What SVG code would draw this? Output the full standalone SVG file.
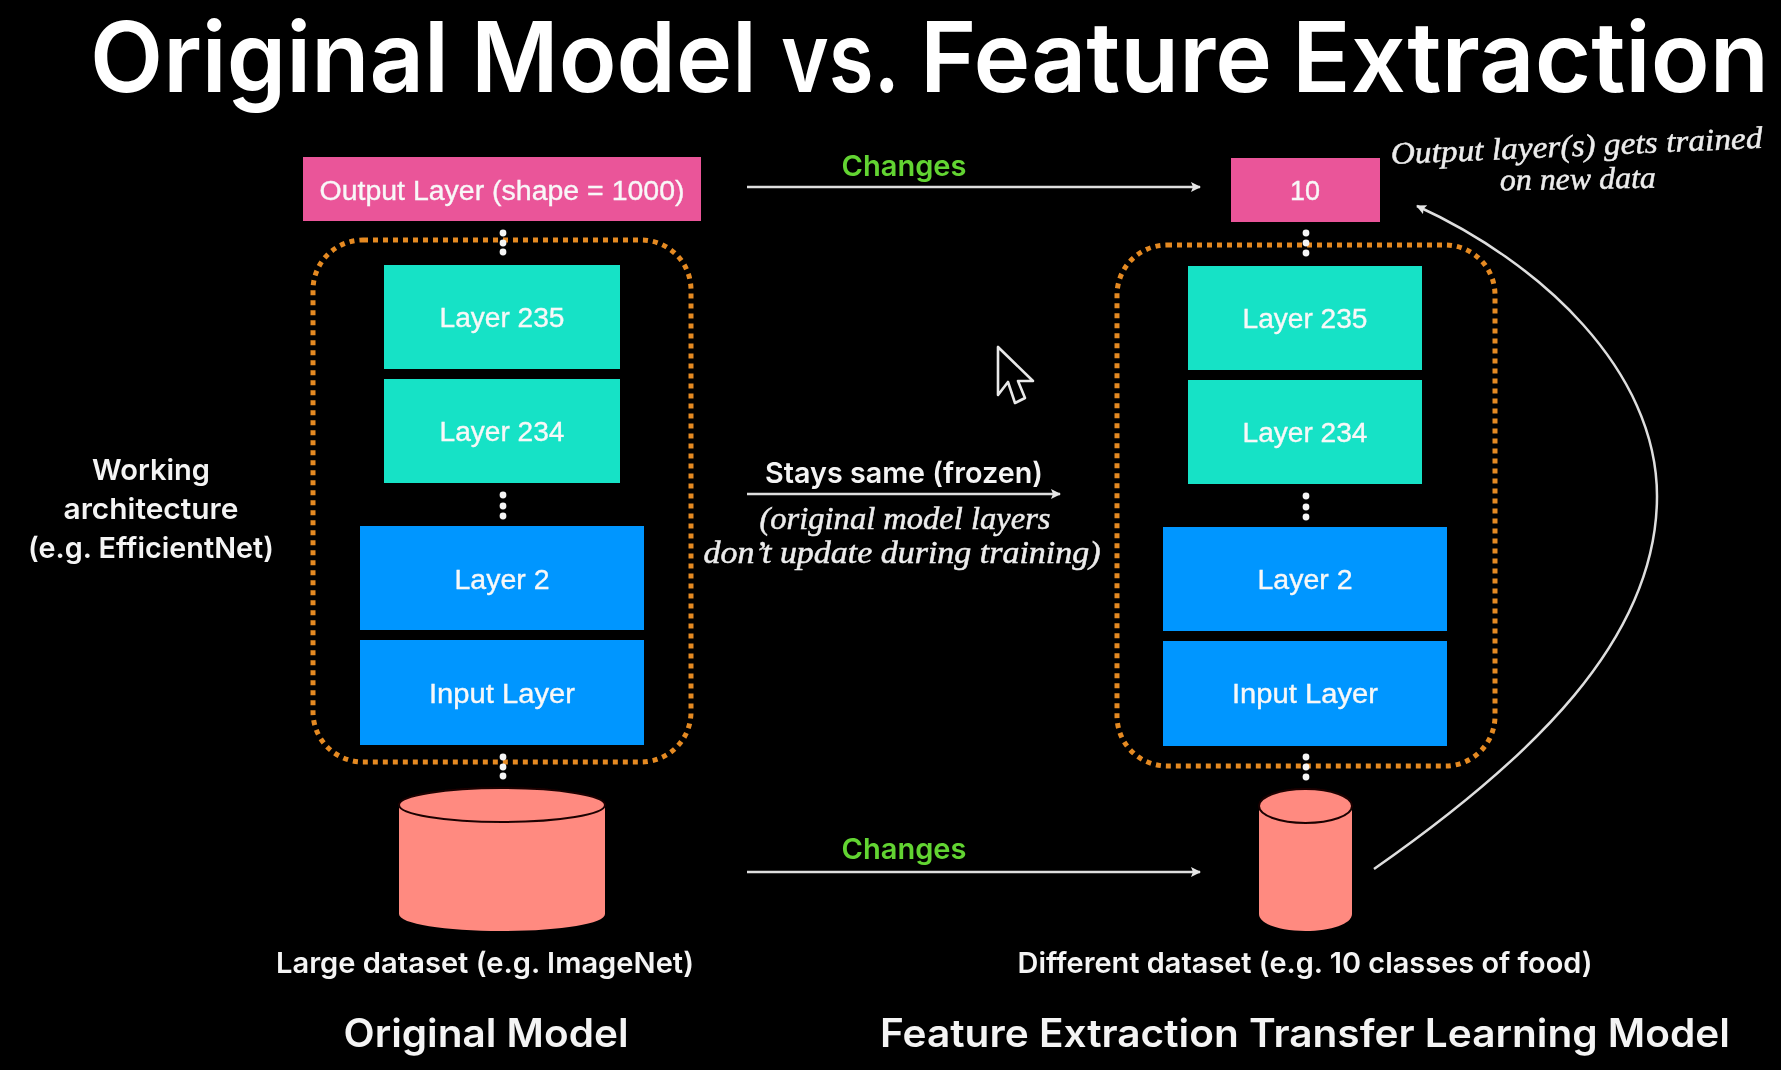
<svg xmlns="http://www.w3.org/2000/svg" width="1781" height="1070" viewBox="0 0 1781 1070">
<style>
.sans{font-family:"Inter","Noto Sans",sans-serif;font-weight:600;fill:#f4f4f4;text-anchor:middle}
.head{text-anchor:start;fill:#fff}
.lab{font-family:"Liberation Sans",Arial,sans-serif;font-size:27px;fill:#f8f8f8;text-anchor:middle;stroke:#f8f8f8;stroke-width:.35}
.hand{font-family:"Liberation Serif","Times New Roman",serif;font-style:italic;font-size:31px;fill:#ececec;text-anchor:middle;stroke:#ececec;stroke-width:.5}
.green{fill:#62d431}
.pink{fill:#ea5499}
.teal{fill:#17e2c6}
.blue{fill:#0096ff}
.frame{fill:none;stroke:#e58a22;stroke-width:5;stroke-dasharray:5 5}
.dot{fill:#f5f5f5}
.cyl{fill:#ff8a80}
.rim{fill:#ff8a80;stroke:#1c0503;stroke-width:2}
.conn{fill:none;stroke:#dedede;stroke-width:2.500}
</style>
<defs>
<marker id="arrow" markerUnits="userSpaceOnUse" markerWidth="12" markerHeight="12" refX="9" refY="5" orient="auto"><path d="M0 0L10 5L0 10L2 5Z" fill="#e6e6e6"/></marker>
<filter id="soft" x="0" y="0" width="100%" height="100%"><feGaussianBlur stdDeviation="0.5"/></filter>
</defs>
<rect width="1781" height="1070" fill="#000"/>
<g filter="url(#soft)">
<g id="title"><text class="sans head" y="92" font-size="98"><tspan x="90" textLength="359" lengthAdjust="spacingAndGlyphs">Original</tspan> <tspan x="471" textLength="286" lengthAdjust="spacingAndGlyphs">Model</tspan> <tspan x="781" textLength="117" lengthAdjust="spacingAndGlyphs">vs.</tspan> <tspan x="920" textLength="352" lengthAdjust="spacingAndGlyphs">Feature</tspan> <tspan x="1292" textLength="477" lengthAdjust="spacingAndGlyphs">Extraction</tspan></text></g>

<g id="frame-left"><rect class="frame" x="313" y="240" width="378" height="522" rx="50"/></g>
<g id="frame-right"><rect class="frame" x="1117" y="245" width="378" height="521" rx="50"/></g>

<g id="dots-left"><circle class="dot" cx="503" cy="233" r="3.4"/><circle class="dot" cx="503" cy="243" r="3.4"/><circle class="dot" cx="503" cy="252" r="3.4"/><circle class="dot" cx="503" cy="495" r="3.4"/><circle class="dot" cx="503" cy="506" r="3.4"/><circle class="dot" cx="503" cy="516" r="3.4"/><circle class="dot" cx="503" cy="757" r="3.4"/><circle class="dot" cx="503" cy="767" r="3.4"/><circle class="dot" cx="503" cy="776" r="3.4"/></g>
<g id="dots-right"><circle class="dot" cx="1306" cy="233" r="3.4"/><circle class="dot" cx="1306" cy="243" r="3.4"/><circle class="dot" cx="1306" cy="253" r="3.4"/><circle class="dot" cx="1306" cy="496" r="3.4"/><circle class="dot" cx="1306" cy="507" r="3.4"/><circle class="dot" cx="1306" cy="517" r="3.4"/><circle class="dot" cx="1306" cy="757" r="3.4"/><circle class="dot" cx="1306" cy="767" r="3.4"/><circle class="dot" cx="1306" cy="777" r="3.4"/></g>

<g id="output-left"><rect class="pink" x="303" y="157" width="398" height="64"/><text class="lab" x="502" y="200" textLength="365" lengthAdjust="spacingAndGlyphs">Output Layer (shape = 1000)</text></g>
<g id="l235-left"><rect class="teal" x="384" y="265" width="236" height="104"/><text class="lab" x="502" y="327" textLength="125" lengthAdjust="spacingAndGlyphs">Layer 235</text></g>
<g id="l234-left"><rect class="teal" x="384" y="379" width="236" height="104"/><text class="lab" x="502" y="441" textLength="125" lengthAdjust="spacingAndGlyphs">Layer 234</text></g>
<g id="l2-left"><rect class="blue" x="360" y="526" width="284" height="104"/><text class="lab" x="502" y="589" textLength="95" lengthAdjust="spacingAndGlyphs">Layer 2</text></g>
<g id="input-left"><rect class="blue" x="360" y="640" width="284" height="105"/><text class="lab" x="502" y="703" textLength="146" lengthAdjust="spacingAndGlyphs">Input Layer</text></g>

<g id="output-right"><rect class="pink" x="1231" y="158" width="149" height="64"/><text class="lab" x="1305" y="200">10</text></g>
<g id="l235-right"><rect class="teal" x="1188" y="266" width="234" height="104"/><text class="lab" x="1305" y="328" textLength="125" lengthAdjust="spacingAndGlyphs">Layer 235</text></g>
<g id="l234-right"><rect class="teal" x="1188" y="380" width="234" height="104"/><text class="lab" x="1305" y="442" textLength="125" lengthAdjust="spacingAndGlyphs">Layer 234</text></g>
<g id="l2-right"><rect class="blue" x="1163" y="527" width="284" height="104"/><text class="lab" x="1305" y="589" textLength="95" lengthAdjust="spacingAndGlyphs">Layer 2</text></g>
<g id="input-right"><rect class="blue" x="1163" y="641" width="284" height="105"/><text class="lab" x="1305" y="703" textLength="146" lengthAdjust="spacingAndGlyphs">Input Layer</text></g>

<g id="data-left"><path class="cyl" d="M399 806V914C399 924 445 931 502 931S605 924 605 914V806Z"/><ellipse class="rim" cx="502" cy="805" rx="103" ry="17"/></g>
<g id="data-right"><path class="cyl" d="M1259 806V914C1259 924 1280 931 1305.500 931S1352 924 1352 914V806Z"/><ellipse class="rim" cx="1305.500" cy="806" rx="46.500" ry="17"/></g>

<g id="connectors">
<path class="conn" d="M747 187H1200" marker-end="url(#arrow)"/>
<path class="conn" d="M747 494H1060" marker-end="url(#arrow)"/>
<path class="conn" d="M747 872H1200" marker-end="url(#arrow)"/>
<path class="conn" d="M1374 869C1530 760 1657 640 1657 496C1657 370 1540 262 1417 206" marker-end="url(#arrow)"/>
</g>

<g id="labels">
<text class="sans green" x="904" y="176" font-size="29" textLength="125" lengthAdjust="spacingAndGlyphs">Changes</text>
<text class="sans green" x="904" y="859" font-size="29" textLength="125" lengthAdjust="spacingAndGlyphs">Changes</text>
<text class="sans" x="904" y="483" font-size="29" textLength="278" lengthAdjust="spacingAndGlyphs">Stays same (frozen)</text>
<text class="hand" x="905" y="529" textLength="291" lengthAdjust="spacingAndGlyphs">(original model layers</text>
<text class="hand" x="902" y="563" textLength="397" lengthAdjust="spacingAndGlyphs">don’t update during training)</text>
<text class="hand" transform="rotate(-2.500 1577 156)" x="1577" y="156" textLength="372" lengthAdjust="spacingAndGlyphs">Output layer(s) gets trained</text>
<text class="hand" transform="rotate(-1 1578 189)" x="1578" y="189" textLength="156" lengthAdjust="spacingAndGlyphs">on new data</text>
<text class="sans" x="151" y="480" font-size="29" textLength="118" lengthAdjust="spacingAndGlyphs">Working</text>
<text class="sans" x="151" y="519" font-size="29" textLength="175" lengthAdjust="spacingAndGlyphs">architecture</text>
<text class="sans" x="151" y="558" font-size="29" textLength="246" lengthAdjust="spacingAndGlyphs">(e.g. EfficientNet)</text>
<text class="sans" x="485" y="973" font-size="29" textLength="418" lengthAdjust="spacingAndGlyphs">Large dataset (e.g. ImageNet)</text>
<text class="sans" x="1305" y="973" font-size="29" textLength="575" lengthAdjust="spacingAndGlyphs">Different dataset (e.g. 10 classes of food)</text>
<text class="sans" x="486" y="1047" font-size="39" textLength="285" lengthAdjust="spacingAndGlyphs">Original Model</text>
<text class="sans" x="1305" y="1047" font-size="39" textLength="850" lengthAdjust="spacingAndGlyphs">Feature Extraction Transfer Learning Model</text>
</g>

<path id="cursor" d="M998 347V395L1008 382L1015 403L1025 398L1018 381H1033Z" fill="#000" stroke="#e8e8e8" stroke-width="2.600" stroke-linejoin="round"/>
</g>
</svg>
